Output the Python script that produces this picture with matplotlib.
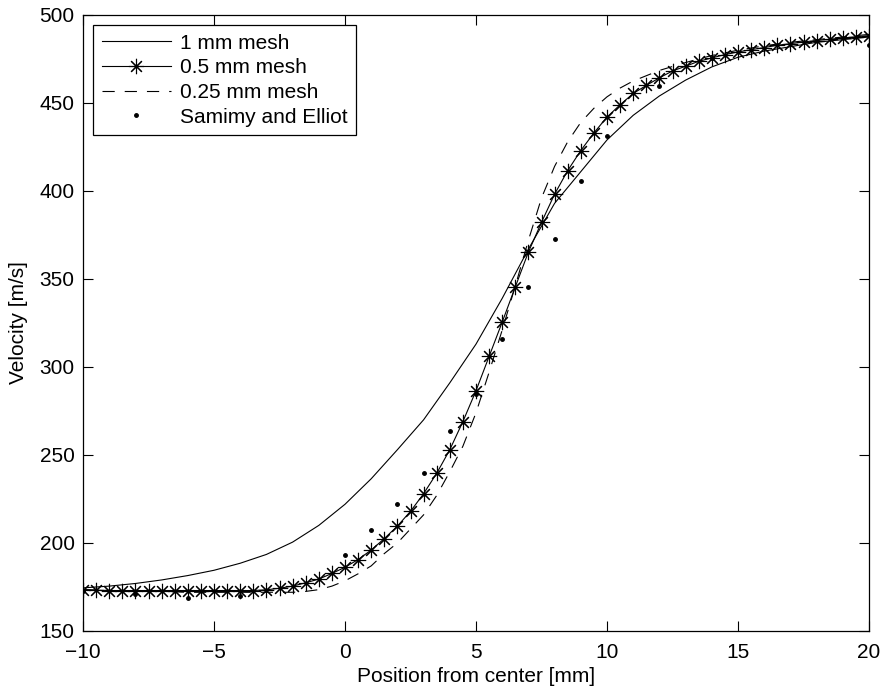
import matplotlib
matplotlib.use("Agg")
from matplotlib import pyplot as plt
from matplotlib import rcParams

rcParams['font.family'] = 'Liberation Sans'

# -- data --------------------------------------------------------------------
# 1 mm mesh
x_1mm = [-10, -9, -8, -7, -6, -5, -4, -3, -2, -1, 0, 1, 2, 3, 4, 5, 6, 7, 8, 9,
         10, 11, 12, 13, 14, 15, 16, 17, 18, 19, 20]
v_1mm = [174.5, 175.5, 177, 179, 181.5, 184.5, 188.5, 193.5, 200.5, 210, 222,
         236.5, 253, 270, 291, 313, 339, 367, 393, 411, 429, 443, 454, 463,
         470.5, 476, 479.5, 482, 484.5, 486, 487.5]

# 0.5 mm mesh
x_05mm = [-10, -9.5, -9, -8.5, -8, -7.5, -7, -6.5, -6, -5.5, -5, -4.5, -4,
          -3.5, -3, -2.5, -2, -1.5, -1, -0.5, 0, 0.5, 1, 1.5, 2, 2.5, 3, 3.5,
          4, 4.5, 5, 5.5, 6, 6.5, 7, 7.5, 8, 8.5, 9, 9.5, 10, 10.5, 11, 11.5,
          12, 12.5, 13, 13.5, 14, 14.5, 15, 15.5, 16, 16.5, 17, 17.5, 18,
          18.5, 19, 19.5, 20]
v_05mm = [173.5, 173.2, 173, 173, 173, 173, 173, 173, 173, 173, 173, 173, 173,
          173, 173.4, 174.3, 175.5, 177.4, 179.5, 182.7, 186.2, 190.6, 196,
          202.5, 209.6, 218, 228, 239.6, 253, 269, 286.5, 306, 325.5, 345.5,
          365.3, 382.2, 398.2, 411.6, 423, 433, 442, 449, 455.4, 460, 464.3,
          468.2, 470.9, 473.7, 475.6, 477.5, 479, 480.3, 481.5, 482.8, 483.7,
          484.7, 485.5, 486.2, 487, 487.6, 488.3]

# 0.25 mm mesh
x_025mm = [-10, -9, -8, -7, -6, -5, -4, -3, -2, -1.5, -1, -0.5, 0, 0.5, 1,
           1.5, 2, 2.5, 3, 3.5, 4, 4.5, 5, 5.5, 6, 6.5, 7, 7.5, 8, 8.5, 9,
           9.5, 10, 10.5, 11, 11.5, 12, 13, 14, 15, 16, 17, 18, 19, 20]
v_025mm = [173.5, 173, 172.5, 172.5, 172, 172, 172, 172, 172, 172.5, 173.5,
           175.5, 178.5, 182.5, 187, 194, 200, 208, 216, 227, 240.5, 255, 274,
           297, 321, 346, 372, 396, 414, 428, 439, 447, 453.5, 458.5, 462.5,
           465.5, 468.5, 473, 477, 480, 482.5, 484.5, 486, 487.5, 489]

# Samimy and Elliot (experiment)
x_exp = [-10, -8, -6, -4, 0, 1, 2, 3, 4, 5, 6, 7, 8, 9, 10, 12, 14, 20]
v_exp = [172.6, 171, 169, 170, 193, 207.6, 222, 240, 263.6, 284.5, 315.7,
         345.4, 373, 405.8, 431, 459.6, 475.5, 483]

# -- plot ----------------------------------------------------------------------
fig = plt.figure(figsize=(8.82, 6.9), dpi=100, facecolor='white')
ax = fig.add_axes([83 / 882, 1 - 631 / 690, 786 / 882, 616 / 690])

ax.plot(x_1mm, v_1mm, color='black', lw=0.8, label='1 mm mesh')
ax.plot(x_05mm, v_05mm, color='black', lw=0.8, marker=(8, 2, 0),
        markersize=11, markeredgewidth=0.8, label='0.5 mm mesh')
ax.plot(x_025mm, v_025mm, color='black', lw=0.8, ls=(0, (11, 9)),
        label='0.25 mm mesh')
ax.plot(x_exp, v_exp, color='black', ls='none', marker='.', markersize=5,
        label='Samimy and Elliot')

ax.set_xlim(-10, 20)
ax.set_ylim(150, 500)
ax.set_xticks([-10, -5, 0, 5, 10, 15, 20])
ax.set_yticks([150, 200, 250, 300, 350, 400, 450, 500])
ax.set_xticklabels(['\u221210', '\u22125', '0', '5', '10', '15', '20'])
ax.tick_params(direction='in', top=True, right=True, length=7, width=0.8,
               labelsize=15)
ax.tick_params(axis='x', pad=9)
ax.tick_params(axis='y', pad=6)
for s in ax.spines.values():
    s.set_linewidth(0.9)

ax.set_xlabel('Position from center [mm]', fontsize=15, labelpad=3)
ax.set_ylabel('Velocity [m/s]', fontsize=15, labelpad=8)

leg = ax.legend(loc='upper left', fontsize=15, frameon=True, fancybox=False,
                framealpha=1, edgecolor='black', handlelength=3.3,
                handletextpad=0.45, labelspacing=0.27, borderpad=0.4,
                borderaxespad=0.5)
leg.get_frame().set_linewidth(0.9)

fig.savefig('out.png', dpi=100)
